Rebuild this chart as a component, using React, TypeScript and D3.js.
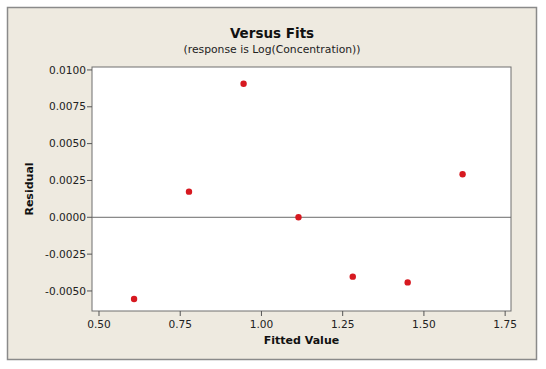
import React from "react";
import * as d3 from "d3";

const fittedValues = [0.608, 0.777, 0.945, 1.114, 1.281, 1.450, 1.619];
const residuals = [-0.00555, 0.00174, 0.00906, 0.0, -0.00403, -0.00442, 0.00292];
const xTicks = [0.5, 0.75, 1.0, 1.25, 1.5, 1.75];
const yTicks = [-0.005, -0.0025, 0, 0.0025, 0.005, 0.0075, 0.01];
const title = "Versus Fits";
const subtitle = "(response is Log(Concentration))";
const xLabel = "Fitted Value";
const yLabel = "Residual";

const W = 546;
const H = 369;
const plot = { left: 92, right: 511, top: 67, bottom: 311 };
const font = "Tahoma, 'DejaVu Sans', Verdana, sans-serif";

export default function App() {
  const x = d3.scaleLinear().domain([0.4785, 1.768]).range([plot.left, plot.right]);
  const y = d3.scaleLinear().domain([-0.00636, 0.0102]).range([plot.bottom, plot.top]);
  return (
    <svg width={W} height={H} style={{ position: "absolute", left: 0, top: 0 }} fontFamily={font}>
      <rect x={0} y={0} width={W} height={H} fill="#ffffff" />
      <rect x={7.5} y={7.5} width={529} height={352} fill="#eeeae0" stroke="#8a8a8a" strokeWidth={1.5} />
      <text x={272} y={38} textAnchor="middle" fontSize={13.5} fontWeight="bold" fill="#111">{title}</text>
      <text x={272} y={53} textAnchor="middle" fontSize={10.8} fill="#222">{subtitle}</text>
      <rect x={plot.left} y={plot.top} width={plot.right - plot.left} height={plot.bottom - plot.top} fill="#ffffff" stroke="#6e6e6e" strokeWidth={1} />
      <line x1={plot.left} x2={plot.right} y1={y(0)} y2={y(0)} stroke="#6a6a6a" strokeWidth={1} />
      {yTicks.map((t) => (
        <g key={"y" + t}>
          <line x1={plot.left - 5} x2={plot.left} y1={y(t)} y2={y(t)} stroke="#555" />
          <text x={plot.left - 6} y={y(t)} dy="0.35em" textAnchor="end" fontSize={10.6} fill="#222">{d3.format(".4f")(t).replace("−", "-")}</text>
        </g>
      ))}
      {xTicks.map((t) => (
        <g key={"x" + t}>
          <line x1={x(t)} x2={x(t)} y1={plot.bottom} y2={plot.bottom + 5} stroke="#555" />
          <text x={x(t)} y={328} textAnchor="middle" fontSize={10.6} fill="#222">{d3.format(".2f")(t)}</text>
        </g>
      ))}
      <text x={(plot.left + plot.right) / 2} y={344} textAnchor="middle" fontSize={11} fontWeight="bold" fill="#111">{xLabel}</text>
      <text transform={`translate(33, ${(plot.top + plot.bottom) / 2}) rotate(-90)`} textAnchor="middle" fontSize={11} fontWeight="bold" fill="#111">{yLabel}</text>
      {fittedValues.map((v, i) => (
        <circle key={i} cx={x(v)} cy={y(residuals[i])} r={3.2} fill="#d71920" />
      ))}
    </svg>
  );
}
